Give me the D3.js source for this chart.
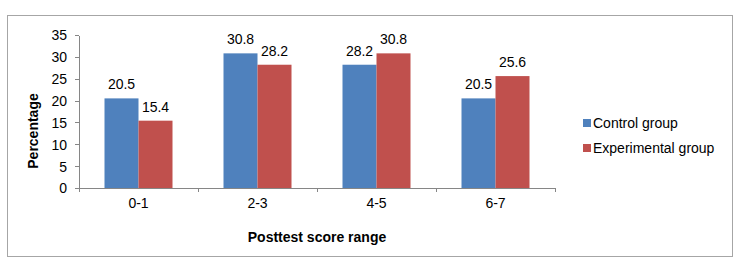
<!DOCTYPE html>
<meta charset="utf-8">
<style>
    body { margin: 0; background: #fff; }
    svg { font-family: "Liberation Sans", Arial, sans-serif; }
    .axis path, .axis line { stroke: #868686; shape-rendering: crispEdges; }
    .axis text { font-size: 14px; fill: #000; }
</style>
<body>
<script src="https://cdn.jsdelivr.net/npm/d3@7"></script>
<script>
    const categories = ["0-1", "2-3", "4-5", "6-7"];
    const seriesNames = ["Control group", "Experimental group"];
    const controlValues = [20.5, 30.8, 28.2, 20.5];
    const experimentalValues = [15.4, 28.2, 30.8, 25.6];
    const yTicks = [0, 5, 10, 15, 20, 25, 30, 35];
    const colors = ["#4f81bd", "#c0504d"];

    const width = 747, height = 260;
    const plot = {left: 79, right: 555, top: 35, bottom: 188};

    const svg = d3.select("body").append("svg")
        .attr("width", width)
        .attr("height", height);

    // outer frame
    svg.append("rect")
        .attr("x", 7.5).attr("y", 15.5)
        .attr("width", 725).attr("height", 241)
        .attr("fill", "none")
        .attr("stroke", "#a6a6a6");

    const x = d3.scaleBand()
        .domain(categories)
        .range([plot.left, plot.right])
        .paddingInner(0)
        .paddingOuter(0);

    // two bars per group, each ~34px, with ~25px gap on each side
    const x1 = d3.scaleBand()
        .domain(seriesNames)
        .range([0, x.bandwidth()])
        .paddingOuter(0.75)
        .paddingInner(0);

    const y = d3.scaleLinear()
        .domain([0, 35])
        .range([plot.bottom, plot.top]);

    // y axis
    svg.append("g")
        .attr("class", "axis")
        .attr("transform", `translate(${plot.left},0)`)
        .call(d3.axisLeft(y).tickValues(yTicks).tickSize(4).tickSizeOuter(0).tickPadding(8))
        .call(g => g.selectAll("text").attr("dy", "0.35em"));

    // x axis with ticks between categories
    const xAxis = svg.append("g")
        .attr("class", "axis")
        .attr("transform", `translate(0,${plot.bottom})`);
    xAxis.append("line")
        .attr("x1", plot.left).attr("x2", plot.right)
        .attr("y1", 0).attr("y2", 0);
    const boundaries = categories.map(c => x(c)).concat([x(categories[categories.length - 1]) + x.bandwidth()]);
    xAxis.selectAll(".tk").data(boundaries).enter().append("line")
        .attr("class", "tk")
        .attr("x1", d => d).attr("x2", d => d)
        .attr("y1", 0).attr("y2", 4);
    xAxis.selectAll(".lbl").data(categories).enter().append("text")
        .attr("class", "lbl")
        .attr("x", d => x(d) + x.bandwidth() / 2)
        .attr("y", 20)
        .attr("text-anchor", "middle")
        .text(d => d);

    // bars
    const rows = categories.map((c, i) => ({cat: c, vals: [controlValues[i], experimentalValues[i]]}));
    const groups = svg.selectAll(".grp").data(rows).enter().append("g")
        .attr("class", "grp")
        .attr("transform", d => `translate(${x(d.cat)},0)`);

    groups.selectAll("rect")
        .data(d => d.vals.map((v, j) => ({name: seriesNames[j], v: v, j: j})))
        .enter().append("rect")
        .attr("x", d => x1(d.name))
        .attr("y", d => y(d.v))
        .attr("width", x1.bandwidth())
        .attr("height", d => y(0) - y(d.v))
        .attr("fill", d => colors[d.j]);

    groups.selectAll("text")
        .data(d => d.vals.map((v, j) => ({name: seriesNames[j], v: v, j: j})))
        .enter().append("text")
        .attr("x", d => x1(d.name) + x1.bandwidth() / 2)
        .attr("y", d => y(d.v) - 9)
        .attr("text-anchor", "middle")
        .style("font-size", "14px")
        .text(d => d.v.toFixed(1));

    // axis titles
    svg.append("text")
        .attr("transform", "translate(38,131) rotate(-90)")
        .attr("text-anchor", "middle")
        .style("font-size", "14px")
        .style("font-weight", "bold")
        .text("Percentage");

    svg.append("text")
        .attr("x", (plot.left + plot.right) / 2)
        .attr("y", 242)
        .attr("text-anchor", "middle")
        .style("font-size", "14px")
        .style("font-weight", "bold")
        .text("Posttest score range");

    // legend
    const legend = svg.selectAll(".legend").data(seriesNames).enter().append("g")
        .attr("class", "legend")
        .attr("transform", (d, i) => `translate(583,${123 + i * 25})`);
    legend.append("rect")
        .attr("x", 0).attr("y", -4)
        .attr("width", 8).attr("height", 8)
        .attr("fill", (d, i) => colors[i]);
    legend.append("text")
        .attr("x", 10)
        .attr("dy", "0.35em")
        .style("font-size", "14px")
        .text(d => d);
</script>
</body>
